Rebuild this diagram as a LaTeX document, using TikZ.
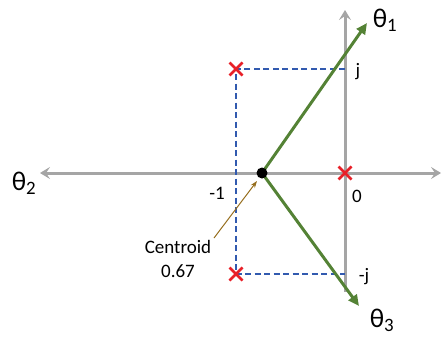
\documentclass[tikz,border=0pt]{standalone}
\usepackage{fontspec}
\setmainfont{Carlito}
\usetikzlibrary{arrows.meta,calc}
\definecolor{axgray}{RGB}{165,165,165}
\definecolor{polered}{RGB}{232,32,40}
\definecolor{dashblue}{RGB}{50,90,175}
\definecolor{armgreen}{RGB}{84,130,53}
\definecolor{olive}{RGB}{150,110,30}
\tikzset{
  axisarrow/.style={draw=axgray,line width=3pt},
  guide/.style={draw=dashblue,line width=1.4pt,dash pattern=on 6pt off 3.5pt},
  arm/.style={draw=armgreen,line width=3pt,-{Triangle[length=11pt,width=10pt]}},
  polemark/.style={draw=polered,line width=2.8pt},
  lbl/.style={font=\fontsize{19}{21}\selectfont,inner sep=0pt},
  theta/.style={font=\fontsize{27}{29}\selectfont,inner sep=0pt}
}
\begin{document}
\begin{tikzpicture}[x=1pt,y=-1pt]
\useasboundingbox (0,0) rectangle (443,337);
% axes
\coordinate (hl) at (40,173);
\coordinate (hr) at (441,173);
\coordinate (vt) at (345,10);
\coordinate (vb) at (345,292);
\draw[axisarrow,{Stealth[length=10pt,width=12pt,inset=4pt]}-{Stealth[length=10pt,width=12pt,inset=4pt]}] (hl) -- (hr);
\draw[axisarrow,-{Stealth[length=10pt,width=12pt,inset=4pt]}] (vb) -- (vt);
% dashed guide
\coordinate (p1) at (236,69);
\coordinate (p2) at (236,274);
\coordinate (p3) at (345,173);
\coordinate (j) at (345,69);
\coordinate (mj) at (345,274);
\draw[guide] (j) -- (p1) -- (p2) -- (mj);
% centroid and asymptotes
\coordinate (c) at (262,173);
\coordinate (t1) at (367,23);
\coordinate (t3) at (359,306);
\draw[arm] (c) -- (t1);
\draw[arm] (c) -- (t3);
\fill[black] (c) circle (5.5pt);
% poles
\foreach \p in {p1,p2,p3}{
  \draw[polemark] ($(\p)+(-6.5,-6.5)$) -- ($(\p)+(6.5,6.5)$);
  \draw[polemark] ($(\p)+(-6.5,6.5)$) -- ($(\p)+(6.5,-6.5)$);
}
% labels
\node[theta] (th1) at (385,20) {θ\textsubscript{1}};
\node[theta] (th2) at (24,183) {θ\textsubscript{2}};
\node[theta] (th3) at (382,320) {θ\textsubscript{3}};
\node[lbl] (lj) at (358,72) {j};
\node[lbl] (lmj) at (364,277) {-j};
\node[lbl] (l0) at (357,196) {0};
\node[lbl] (lm1) at (217,193) {-1};
\node[lbl,align=center,font=\fontsize{19}{24}\selectfont] (cent) at (178,259) {Centroid\\0.67};
\coordinate (ctip) at (257,181);
\draw[olive,line width=1pt,-{Stealth[length=7pt,width=5pt]}] (214,238) -- (ctip);
\end{tikzpicture}
\end{document}
